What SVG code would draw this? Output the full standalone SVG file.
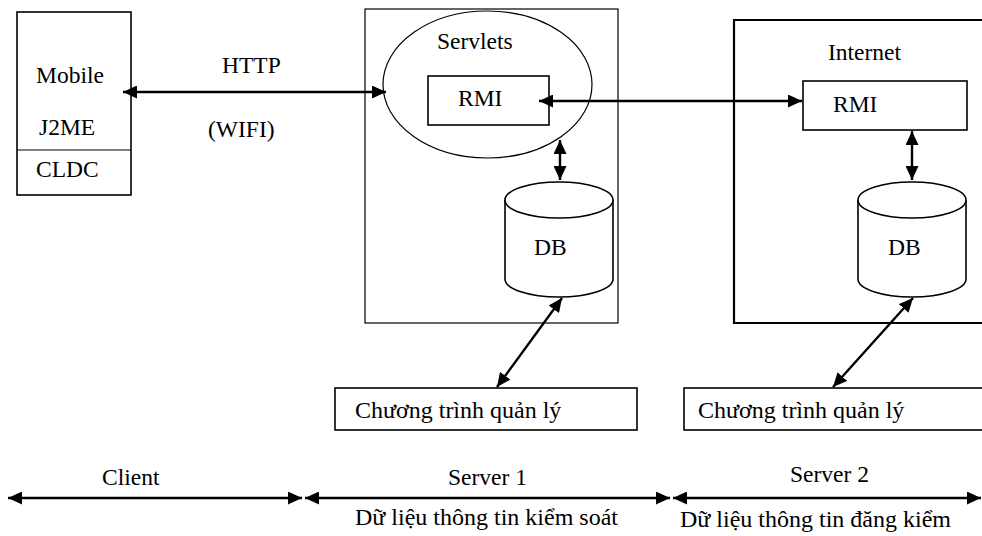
<svg xmlns="http://www.w3.org/2000/svg" width="982" height="536" viewBox="0 0 982 536">
<defs>
<marker id="ah" markerUnits="userSpaceOnUse" markerWidth="15" markerHeight="13" refX="14" refY="6.5" orient="auto-start-reverse">
<path d="M0,0 L14,6.5 L0,13 Z" fill="#000"/>
</marker>
<style>
text{font-family:"Liberation Serif","Times New Roman",serif;font-size:23.5px;fill:#000}
text.vn{font-size:24px}
.box{fill:#fff;stroke:#000;stroke-width:1.6}
.thin{fill:none;stroke:#000;stroke-width:1.2}
.thick{fill:none;stroke:#000;stroke-width:2.2}
.con{fill:none;stroke:#000;stroke-width:2.4;marker-start:url(#ah);marker-end:url(#ah)}
</style>
</defs>
<rect width="982" height="536" fill="#fff"/>

<g id="mobile">
<rect class="box" x="17" y="12" width="114" height="183"/>
<line class="thin" x1="17" y1="150" x2="131" y2="150" stroke-width="1.6"/>
<text x="36" y="83">Mobile</text>
<text x="39" y="135">J2ME</text>
<text x="36" y="177">CLDC</text>
</g>

<g id="server1">
<rect class="thin" x="365" y="9" width="253" height="314"/>
<ellipse class="thin" cx="487.5" cy="84.5" rx="104.5" ry="73.5" stroke-width="1.6"/>
<text x="437" y="49">Servlets</text>
</g>
<g id="rmi1">
<rect class="box" x="428" y="76" width="121" height="49"/>
<text x="458" y="106">RMI</text>
</g>
<g id="db1">
<path class="box" d="M505,200 L505,279 A54,18 0 0 0 613,279 L613,200"/>
<ellipse class="box" cx="559" cy="200" rx="54" ry="18"/>
<text x="534" y="255">DB</text>
</g>

<g id="server2">
<path class="thick" d="M990,20 L734,20 L734,323 L990,323"/>
<text x="828" y="60">Internet</text>
</g>
<g id="rmi2">
<rect class="box" x="803" y="81" width="164" height="49"/>
<text x="833" y="112">RMI</text>
</g>
<g id="db2">
<path class="box" d="M858,200 L858,279 A54,18 0 0 0 966,279 L966,200"/>
<ellipse class="box" cx="912" cy="200" rx="54" ry="18"/>
<text x="888" y="255">DB</text>
</g>

<g id="prog1">
<rect class="box" x="335" y="388" width="302" height="42"/>
<text class="vn" x="355" y="418">Chương trình quản lý</text>
</g>
<g id="prog2">
<rect class="box" x="684" y="388" width="306" height="42"/>
<text class="vn" x="698" y="418">Chương trình quản lý</text>
</g>

<g id="labels">
<text x="222" y="73">HTTP</text>
<text x="208" y="137">(WIFI)</text>
<text x="102" y="485">Client</text>
<text x="448" y="485">Server 1</text>
<text x="790" y="482">Server 2</text>
<text class="vn" x="355" y="525">Dữ liệu thông tin kiểm soát</text>
<text class="vn" x="680" y="527">Dữ liệu thông tin đăng kiểm</text>
</g>

<g id="connectors">
<line class="con" x1="123" y1="92" x2="386" y2="92"/>
<line class="con" x1="539" y1="101" x2="802" y2="101"/>
<line class="con" x1="560" y1="140" x2="560" y2="180"/>
<line class="con" x1="912" y1="131" x2="912" y2="180"/>
<line class="con" x1="562" y1="298" x2="497" y2="387"/>
<line class="con" x1="913" y1="298" x2="833" y2="387"/>
<line class="con" x1="8" y1="498" x2="302" y2="498"/>
<line class="con" x1="305" y1="498" x2="670" y2="498"/>
<line class="con" x1="673" y1="498" x2="981" y2="498"/>
</g>
</svg>
